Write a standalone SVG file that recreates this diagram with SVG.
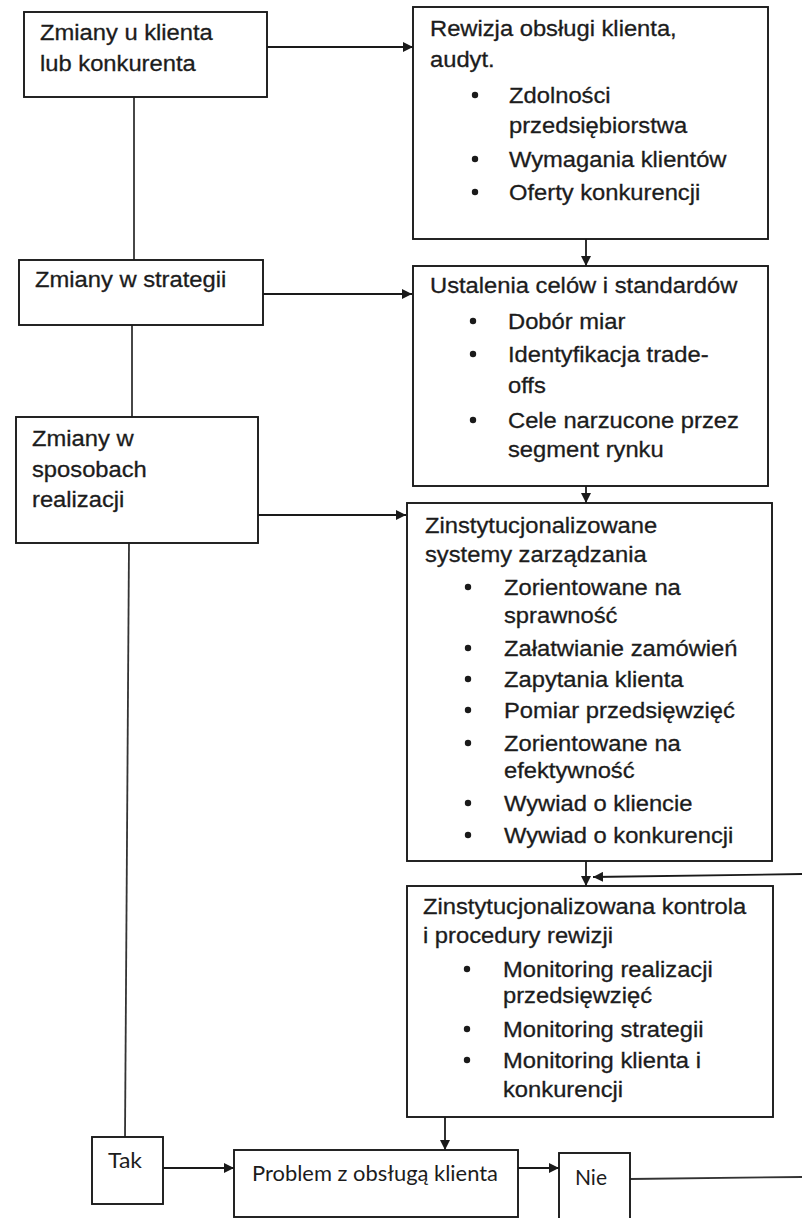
<svg xmlns="http://www.w3.org/2000/svg" width="802" height="1218" viewBox="0 0 802 1218">
  <style>
    .box { fill: #ffffff; stroke: #1a1a1a; stroke-width: 1.9; }
    .t { font-family: "Liberation Sans", Arial, sans-serif; font-size: 22px; fill: #1c1c1c;
         stroke: #1c1c1c; stroke-width: 0.3;
         transform-box: fill-box; transform-origin: left center; transform: scaleX(1.08); }
    .c { font-family: Lato, "Open Sans", sans-serif; font-size: 21px; fill: #1c1c1c; }
    .bul { fill: #1a1a1a; }
    .link { fill: none; stroke: #1a1a1a; stroke-width: 1.8; }
    .plain { fill: none; stroke: #333333; stroke-width: 1.8; }
  </style>
  <defs>
    <marker id="arrow" viewBox="0 0 10 10" refX="10" refY="5" markerWidth="10" markerHeight="10"
            markerUnits="userSpaceOnUse" orient="auto">
      <path d="M0,0 L10,5 L0,10 z" fill="#1a1a1a"/>
    </marker>
  </defs>

  <rect width="802" height="1218" fill="#ffffff"/>

  <!-- connectors -->
  <g id="connectors">
    <path class="link" d="M267,47 H413" marker-end="url(#arrow)"/>
    <path class="link" d="M586,239 V266" marker-end="url(#arrow)"/>
    <path class="link" d="M263,294 H412" marker-end="url(#arrow)"/>
    <path class="link" d="M586,486 V503" marker-end="url(#arrow)"/>
    <path class="link" d="M258,515 H406" marker-end="url(#arrow)"/>
    <path class="link" d="M586,861 V886" marker-end="url(#arrow)"/>
    <path class="link" d="M802,874 L593,877" marker-end="url(#arrow)"/>
    <path class="link" d="M445,1110 V1150" marker-end="url(#arrow)"/>
    <path class="link" d="M163,1168 H234" marker-end="url(#arrow)"/>
    <path class="link" d="M515,1168 H559" marker-end="url(#arrow)"/>
    <path class="plain" d="M630,1179 L802,1177"/>
    <path class="plain" d="M134,93 V260"/>
    <path class="plain" d="M132,325 V417"/>
    <path class="plain" d="M129,543 L125,1137"/>
  </g>

  <!-- left column -->
  <g id="zmiany-klient">
    <rect class="box" x="24" y="12" width="243" height="85"/>
    <text class="t" x="40" y="40.5">Zmiany u klienta</text>
    <text class="t" x="40" y="71.5">lub konkurenta</text>
  </g>

  <g id="zmiany-strategia">
    <rect class="box" x="19" y="260" width="244" height="65"/>
    <text class="t" x="35" y="287">Zmiany w strategii</text>
  </g>

  <g id="zmiany-realizacja">
    <rect class="box" x="16" y="417" width="242" height="126"/>
    <text class="t" x="32" y="446">Zmiany w</text>
    <text class="t" x="32" y="477">sposobach</text>
    <text class="t" x="32" y="507">realizacji</text>
  </g>

  <!-- right column -->
  <g id="rewizja">
    <rect class="box" x="413" y="7" width="355" height="232"/>
    <text class="t" x="430" y="36">Rewizja obsługi klienta,</text>
    <text class="t" x="430" y="67">audyt.</text>
    <circle class="bul" cx="475" cy="95" r="3.2"/>
    <text class="t" x="509" y="103">Zdolności</text>
    <text class="t" x="509" y="133">przedsiębiorstwa</text>
    <circle class="bul" cx="475" cy="159" r="3.2"/>
    <text class="t" x="509" y="167">Wymagania klientów</text>
    <circle class="bul" cx="475" cy="192" r="3.2"/>
    <text class="t" x="509" y="200">Oferty konkurencji</text>
  </g>

  <g id="cele">
    <rect class="box" x="413" y="266" width="355" height="220"/>
    <text class="t" x="430" y="293">Ustalenia celów i standardów</text>
    <circle class="bul" cx="473" cy="321" r="3.2"/>
    <text class="t" x="508" y="329">Dobór miar</text>
    <circle class="bul" cx="473" cy="354" r="3.2"/>
    <text class="t" x="508" y="362">Identyfikacja trade-</text>
    <text class="t" x="508" y="393">offs</text>
    <circle class="bul" cx="473" cy="420" r="3.2"/>
    <text class="t" x="508" y="428">Cele narzucone przez</text>
    <text class="t" x="508" y="457">segment rynku</text>
  </g>

  <g id="systemy">
    <rect class="box" x="407" y="503" width="365" height="358"/>
    <text class="t" x="425" y="533">Zinstytucjonalizowane</text>
    <text class="t" x="425" y="562">systemy zarządzania</text>
    <circle class="bul" cx="468" cy="587" r="3.2"/>
    <text class="t" x="504" y="595">Zorientowane na</text>
    <text class="t" x="504" y="623">sprawność</text>
    <circle class="bul" cx="468" cy="648" r="3.2"/>
    <text class="t" x="504" y="656">Załatwianie zamówień</text>
    <circle class="bul" cx="468" cy="679" r="3.2"/>
    <text class="t" x="504" y="687">Zapytania klienta</text>
    <circle class="bul" cx="468" cy="710" r="3.2"/>
    <text class="t" x="504" y="718">Pomiar przedsięwzięć</text>
    <circle class="bul" cx="468" cy="743" r="3.2"/>
    <text class="t" x="504" y="751">Zorientowane na</text>
    <text class="t" x="504" y="778">efektywność</text>
    <circle class="bul" cx="468" cy="803" r="3.2"/>
    <text class="t" x="504" y="811">Wywiad o kliencie</text>
    <circle class="bul" cx="468" cy="835" r="3.2"/>
    <text class="t" x="504" y="843">Wywiad o konkurencji</text>
  </g>

  <g id="kontrola">
    <rect class="box" x="407" y="886" width="366" height="231"/>
    <text class="t" x="423" y="914">Zinstytucjonalizowana kontrola</text>
    <text class="t" x="423" y="943">i procedury rewizji</text>
    <circle class="bul" cx="467" cy="969" r="3.2"/>
    <text class="t" x="503" y="977">Monitoring realizacji</text>
    <text class="t" x="503" y="1003">przedsięwzięć</text>
    <circle class="bul" cx="467" cy="1029" r="3.2"/>
    <text class="t" x="503" y="1037">Monitoring strategii</text>
    <circle class="bul" cx="467" cy="1060" r="3.2"/>
    <text class="t" x="503" y="1068">Monitoring klienta i</text>
    <text class="t" x="503" y="1097">konkurencji</text>
  </g>

  <!-- decision row -->
  <g id="tak">
    <rect class="box" x="92" y="1137" width="71" height="67"/>
    <text class="c" x="108" y="1168" textLength="34" lengthAdjust="spacingAndGlyphs">Tak</text>
  </g>

  <g id="problem">
    <rect class="box" x="234" y="1150" width="284" height="67"/>
    <text class="c" x="252" y="1181" textLength="246" lengthAdjust="spacingAndGlyphs">Problem z obsługą klienta</text>
  </g>

  <g id="nie">
    <rect class="box" x="559" y="1153" width="71" height="80"/>
    <text class="c" x="575" y="1185" textLength="32" lengthAdjust="spacingAndGlyphs">Nie</text>
  </g>
</svg>
